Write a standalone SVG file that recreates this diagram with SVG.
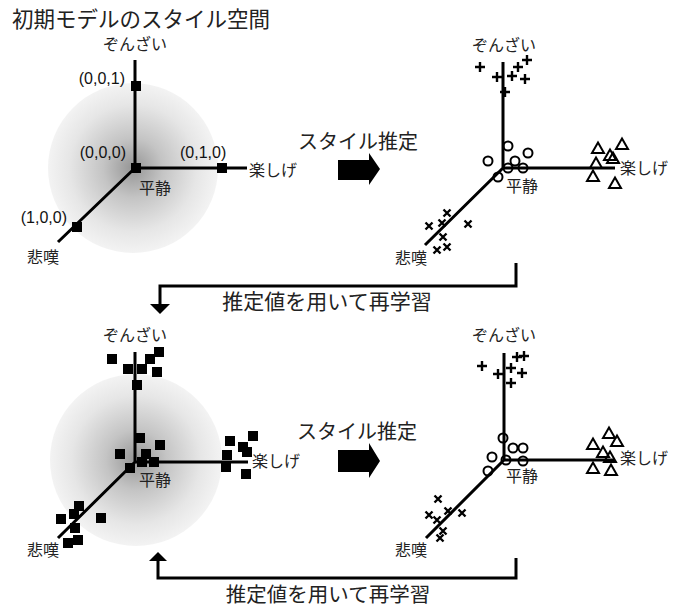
<svg xmlns="http://www.w3.org/2000/svg" xmlns:xlink="http://www.w3.org/1999/xlink" width="686" height="608" viewBox="0 0 686 608">
<style>
.ax{stroke:#000;stroke-width:3;fill:none}
.fb{stroke:#000;stroke-width:3;fill:none}
.jp{font-family:"Noto Sans CJK JP","Noto Sans",sans-serif;fill:#222}
.lb{font-size:16px}
.co{font-family:"Liberation Sans",Arial,sans-serif;font-size:16px;fill:#111}
.mk{stroke:#000;stroke-width:2.4;fill:none}
.mc{stroke:#000;stroke-width:2;fill:none}
</style>
<defs>
<radialGradient id="glow" cx="0.5" cy="0.5" r="0.5">
<stop offset="0" stop-color="#959595"/>
<stop offset="0.35" stop-color="#c4c4c4"/>
<stop offset="0.75" stop-color="#e6e6e6"/>
<stop offset="1" stop-color="#f3f3f3"/>
</radialGradient>
<rect id="sq" x="-5" y="-5" width="10" height="10" fill="#000"/>
<path id="plus" class="mk" d="M-5,0H5M0,-5V5"/>
<path id="cross" class="mk" d="M-3.5,-3.5L3.5,3.5M-3.5,3.5L3.5,-3.5"/>
<circle id="circ" class="mc" r="4.5"/>
<polygon id="tri" class="mc" points="0,-5.5 6,5 -6,5"/>
</defs>
<rect width="686" height="608" fill="#fff"/>
<text class="jp" x="12" y="27" font-size="21.5">初期モデルのスタイル空間</text>

<g id="panel1">
<circle cx="133" cy="168" r="85" fill="url(#glow)"/>
<path class="ax" d="M135,60V168H247M135,168L58,242"/>
<use xlink:href="#sq" x="136" y="86"/>
<use xlink:href="#sq" x="136" y="168"/>
<use xlink:href="#sq" x="222" y="168"/>
<use xlink:href="#sq" x="77" y="227"/>
<text class="jp lb" x="135" y="50" text-anchor="middle">ぞんざい</text>
<text class="co" x="125" y="84" text-anchor="end">(0,0,1)</text>
<text class="co" x="126" y="158" text-anchor="end">(0,0,0)</text>
<text class="co" x="180" y="158">(0,1,0)</text>
<text class="jp lb" x="249" y="176">楽しげ</text>
<text class="jp lb" x="139" y="194">平静</text>
<text class="co" x="67" y="223" text-anchor="end">(1,0,0)</text>
<text class="jp lb" x="27" y="263">悲嘆</text>
</g>

<g id="panel2">
<path class="ax" d="M503,62V168H615M503,168L425,245"/>
<use xlink:href="#plus" x="480" y="67"/>
<use xlink:href="#plus" x="527" y="60"/>
<use xlink:href="#plus" x="518" y="67"/>
<use xlink:href="#plus" x="497" y="77"/>
<use xlink:href="#plus" x="512" y="76"/>
<use xlink:href="#plus" x="525" y="79"/>
<use xlink:href="#plus" x="505" y="92"/>
<use xlink:href="#circ" x="508" y="146"/>
<use xlink:href="#circ" x="528" y="153"/>
<use xlink:href="#circ" x="488" y="161"/>
<use xlink:href="#circ" x="515" y="161"/>
<use xlink:href="#circ" x="508" y="168"/>
<use xlink:href="#circ" x="523" y="168"/>
<use xlink:href="#circ" x="498" y="177"/>
<use xlink:href="#tri" x="598" y="148"/>
<use xlink:href="#tri" x="622" y="144"/>
<use xlink:href="#tri" x="610" y="155"/>
<use xlink:href="#tri" x="613" y="158"/>
<use xlink:href="#tri" x="596" y="163"/>
<use xlink:href="#tri" x="593" y="176"/>
<use xlink:href="#tri" x="615" y="183"/>
<use xlink:href="#cross" x="447" y="213"/>
<use xlink:href="#cross" x="429" y="226"/>
<use xlink:href="#cross" x="442" y="223"/>
<use xlink:href="#cross" x="468" y="224"/>
<use xlink:href="#cross" x="443" y="237"/>
<use xlink:href="#cross" x="437" y="250"/>
<use xlink:href="#cross" x="447" y="247"/>
<text class="jp lb" x="504" y="51" text-anchor="middle">ぞんざい</text>
<text class="jp lb" x="620" y="174">楽しげ</text>
<text class="jp lb" x="506" y="192">平静</text>
<text class="jp lb" x="395" y="264">悲嘆</text>
</g>

<g id="panel3">
<circle cx="136" cy="460" r="86" fill="url(#glow)"/>
<path class="ax" d="M135,352V462H248M135,462L58,538"/>
<use xlink:href="#sq" x="112" y="359"/>
<use xlink:href="#sq" x="128" y="369"/>
<use xlink:href="#sq" x="142" y="369"/>
<use xlink:href="#sq" x="150" y="359"/>
<use xlink:href="#sq" x="159" y="352"/>
<use xlink:href="#sq" x="157" y="372"/>
<use xlink:href="#sq" x="137" y="385"/>
<use xlink:href="#sq" x="140" y="438"/>
<use xlink:href="#sq" x="160" y="445"/>
<use xlink:href="#sq" x="120" y="454"/>
<use xlink:href="#sq" x="146" y="454"/>
<use xlink:href="#sq" x="142" y="462"/>
<use xlink:href="#sq" x="154" y="462"/>
<use xlink:href="#sq" x="130" y="468"/>
<use xlink:href="#sq" x="230" y="441"/>
<use xlink:href="#sq" x="253" y="436"/>
<use xlink:href="#sq" x="243" y="447"/>
<use xlink:href="#sq" x="247" y="452"/>
<use xlink:href="#sq" x="227" y="455"/>
<use xlink:href="#sq" x="226" y="467"/>
<use xlink:href="#sq" x="246" y="474"/>
<use xlink:href="#sq" x="79" y="506"/>
<use xlink:href="#sq" x="61" y="519"/>
<use xlink:href="#sq" x="74" y="514"/>
<use xlink:href="#sq" x="101" y="518"/>
<use xlink:href="#sq" x="75" y="528"/>
<use xlink:href="#sq" x="78" y="540"/>
<use xlink:href="#sq" x="68" y="543"/>
<text class="jp lb" x="135" y="341" text-anchor="middle">ぞんざい</text>
<text class="jp lb" x="252" y="467">楽しげ</text>
<text class="jp lb" x="139" y="486">平静</text>
<text class="jp lb" x="27" y="556">悲嘆</text>
</g>

<g id="panel4">
<path class="ax" d="M504,353V460H615M504,460L426,538"/>
<use xlink:href="#plus" x="482" y="366"/>
<use xlink:href="#plus" x="517" y="357"/>
<use xlink:href="#plus" x="524" y="356"/>
<use xlink:href="#plus" x="511" y="368"/>
<use xlink:href="#plus" x="522" y="373"/>
<use xlink:href="#plus" x="498" y="374"/>
<use xlink:href="#plus" x="511" y="383"/>
<use xlink:href="#circ" x="503" y="438"/>
<use xlink:href="#circ" x="513" y="448"/>
<use xlink:href="#circ" x="523" y="448"/>
<use xlink:href="#circ" x="492" y="457"/>
<use xlink:href="#circ" x="506" y="460"/>
<use xlink:href="#circ" x="523" y="461"/>
<use xlink:href="#circ" x="488" y="471"/>
<use xlink:href="#tri" x="593" y="444"/>
<use xlink:href="#tri" x="609" y="433"/>
<use xlink:href="#tri" x="617" y="441"/>
<use xlink:href="#tri" x="603" y="452"/>
<use xlink:href="#tri" x="610" y="457"/>
<use xlink:href="#tri" x="593" y="468"/>
<use xlink:href="#tri" x="611" y="470"/>
<use xlink:href="#cross" x="438" y="499"/>
<use xlink:href="#cross" x="429" y="515"/>
<use xlink:href="#cross" x="437" y="520"/>
<use xlink:href="#cross" x="448" y="511"/>
<use xlink:href="#cross" x="462" y="513"/>
<use xlink:href="#cross" x="443" y="531"/>
<use xlink:href="#cross" x="440" y="538"/>
<text class="jp lb" x="504" y="341" text-anchor="middle">ぞんざい</text>
<text class="jp lb" x="620" y="464">楽しげ</text>
<text class="jp lb" x="506" y="482">平静</text>
<text class="jp lb" x="395" y="556">悲嘆</text>
</g>

<g id="estimate1">
<text class="jp" x="298" y="149" font-size="20">スタイル推定</text>
<polygon points="338,160 369,160 369,153 380,169 369,185 369,180 338,180" fill="#000"/>
</g>
<g id="estimate2">
<text class="jp" x="297" y="439" font-size="20">スタイル推定</text>
<polygon points="338,450 369,450 369,443 380,461 369,478 369,472 338,472" fill="#000"/>
</g>

<g id="connectors">
<path class="fb" d="M516,263V286H160V305"/>
<polygon points="150,304 170,304 160,314" fill="#000"/>
<path class="fb" d="M516,558V578H158V560"/>
<polygon points="149,561 167,561 158,552" fill="#000"/>
</g>
<text class="jp" x="327" y="309" font-size="21" text-anchor="middle">推定値を用いて再学習</text>
<text class="jp" x="328" y="602" font-size="20.5" text-anchor="middle">推定値を用いて再学習</text>
</svg>
